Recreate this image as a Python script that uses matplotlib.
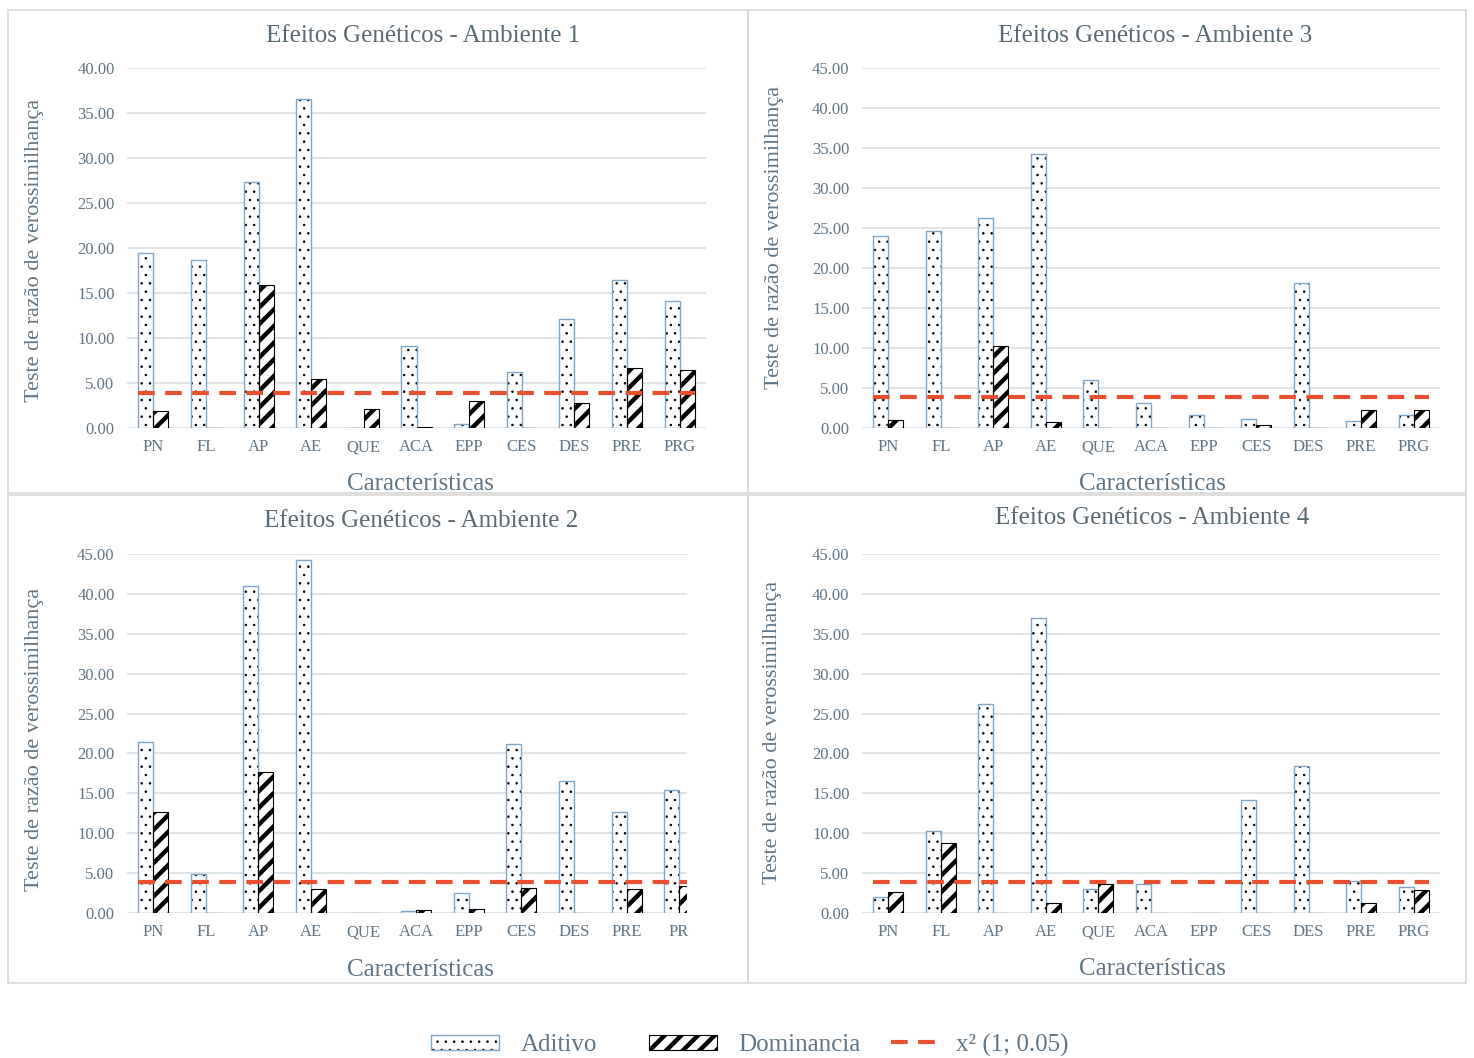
import matplotlib
matplotlib.use("Agg")
import matplotlib.pyplot as plt
import numpy as np
from matplotlib.patches import Rectangle, Patch
from matplotlib.lines import Line2D
from matplotlib.legend_handler import HandlerTuple

plt.rcParams['font.family'] = ['Liberation Serif', 'DejaVu Serif']

categories = ['PN', 'FL', 'AP', 'AE', 'QUE', 'ACA', 'EPP', 'CES', 'DES', 'PRE', 'PRG']
categories_amb2 = ['PN', 'FL', 'AP', 'AE', 'QUE', 'ACA', 'EPP', 'CES', 'DES', 'PRE', 'PR']

aditivo_1 = [19.4, 18.7, 27.3, 36.6, 0.0, 9.1, 0.4, 6.2, 12.1, 16.4, 14.1]
dominancia_1 = [1.9, 0.0, 15.9, 5.5, 2.1, 0.1, 3.0, 0.05, 2.8, 6.7, 6.4]
aditivo_2 = [21.4, 4.9, 41.0, 44.2, 0.0, 0.2, 2.5, 21.2, 16.6, 12.6, 15.4]
dominancia_2 = [12.6, 0.0, 17.7, 3.0, 0.0, 0.4, 0.45, 3.1, 0.0, 3.0, 3.4]
aditivo_3 = [24.0, 24.6, 26.2, 34.2, 6.0, 3.1, 1.6, 1.1, 18.1, 0.9, 1.6]
dominancia_3 = [0.95, 0.05, 10.3, 0.75, 0.0, 0.0, 0.0, 0.4, 0.0, 2.3, 2.2]
aditivo_4 = [2.0, 10.3, 26.2, 37.0, 3.0, 3.6, 0.05, 14.2, 18.4, 4.0, 3.2]
dominancia_4 = [2.6, 8.8, 0.05, 1.2, 3.6, 0.0, 0.0, 0.0, 0.05, 1.2, 2.9]

limiar = 3.84  # x2 (1; 0.05)

TXT = '#607585'
GRID = '#d5dde2'
RED = '#E8502F'
ADD_EDGE = '#7fa6c6'
DOT_LW = 0.6
STRIPE_LW = 3.2

W, H = 1474, 1058
fig = plt.figure(figsize=(W / 100, H / 100), dpi=100)
fig.patch.set_facecolor('white')


def fx(px):
    return px / W


def fy(py):
    return 1 - py / H


def set_hlw(artists, lw):
    for a in artists:
        if hasattr(a, 'set_hatch_linewidth'):
            a.set_hatch_linewidth(lw)


# panel borders
for (x0, y0, x1, y1) in [(8, 10, 748, 493), (748, 10, 1466, 493),
                         (8, 495, 748, 983), (748, 495, 1466, 983)]:
    fig.add_artist(Rectangle((fx(x0), fy(y1)), fx(x1) - fx(x0), fy(y0) - fy(y1),
                             transform=fig.transFigure, fill=False,
                             edgecolor='#d9d9d9', lw=1.2))

panels = [
    dict(title='Efeitos Genéticos - Ambiente 1', ad=aditivo_1, dom=dominancia_1, cats=categories,
         box=(127, 68, 706, 428), ymax=40, tpos=(423, 36), xl=(420, 484), yl=(35, 250), xright=None),
    dict(title='Efeitos Genéticos - Ambiente 3', ad=aditivo_3, dom=dominancia_3, cats=categories,
         box=(862, 68, 1440, 428), ymax=45, tpos=(1155, 36), xl=(1152, 484), yl=(775, 237), xright=None),
    dict(title='Efeitos Genéticos - Ambiente 2', ad=aditivo_2, dom=dominancia_2, cats=categories_amb2,
         box=(127, 554, 687, 913), ymax=45, tpos=(421, 521), xl=(420, 970), yl=(35, 739), xright=10.15),
    dict(title='Efeitos Genéticos - Ambiente 4', ad=aditivo_4, dom=dominancia_4, cats=categories,
         box=(862, 554, 1440, 913), ymax=45, tpos=(1152, 518), xl=(1152, 969), yl=(773, 732), xright=None),
]

bw = 0.285
for p in panels:
    x0, y0, x1, y1 = p['box']
    ax = fig.add_axes([fx(x0), fy(y1), fx(x1) - fx(x0), fy(y0) - fy(y1)])
    x = np.arange(len(p['cats']))
    # additive bars: dotted pattern + blue outline
    with plt.rc_context({'hatch.linewidth': DOT_LW}):
        b = ax.bar(x - bw / 2, p['ad'], bw, color='white', edgecolor='black', hatch='..', lw=0, zorder=3)
        set_hlw(b, DOT_LW)
    ax.bar(x - bw / 2, p['ad'], bw, fill=False, edgecolor=ADD_EDGE, lw=1.0, zorder=4)
    # dominance bars: stripes + black outline
    with plt.rc_context({'hatch.linewidth': STRIPE_LW}):
        b = ax.bar(x + bw / 2, p['dom'], bw, color='white', edgecolor='black', hatch='//', lw=0, zorder=3)
        set_hlw(b, STRIPE_LW)
    ax.bar(x + bw / 2, p['dom'], bw, fill=False, edgecolor='black', lw=0.8, zorder=4)
    ax.hlines(limiar, x[0] - bw * 1.05, x[-1] + bw * 1.05, colors=RED, lw=3,
              linestyles=(0, (4, 2.5)), zorder=5)
    ax.set_ylim(0, p['ymax'])
    ax.set_xlim(-0.5, p['xright'] if p['xright'] is not None else len(x) - 0.5)
    ticks = np.arange(0, p['ymax'] + 0.1, 5)
    ax.set_yticks(ticks)
    ax.set_yticklabels([f'{v:.2f}' for v in ticks])
    ax.set_xticks(x)
    ax.set_xticklabels(p['cats'])
    ax.tick_params(axis='both', length=0, colors=TXT, labelsize=12)
    ax.tick_params(axis='y', pad=9)
    ax.tick_params(axis='x', pad=8)
    ax.grid(axis='y', color=GRID, lw=1.1, zorder=0)
    ax.set_axisbelow(True)
    for s in ax.spines.values():
        s.set_visible(False)
    ax.patch.set_alpha(0)
    fig.text(fx(p['tpos'][0]), fy(p['tpos'][1]), p['title'], ha='center', va='center',
             fontsize=18, color='#5a6a75')
    fig.text(fx(p['xl'][0]), fy(p['xl'][1]), 'Características', ha='center', va='center',
             fontsize=18, color=TXT)
    fig.text(fx(p['yl'][0]), fy(p['yl'][1]), 'Teste de razão de verossimilhança', ha='center',
             va='center', rotation=90, fontsize=16, color=TXT)

h1a = Patch(facecolor='white', edgecolor='black', hatch='..', lw=0)
h1b = Patch(fill=False, edgecolor=ADD_EDGE, lw=1.0)
h2 = Patch(facecolor='white', edgecolor='black', hatch='//', lw=0.8)
h3 = Line2D([0], [0], color=RED, lw=3, linestyle=(0, (4, 2.5)))
leg1 = fig.legend([(h1a, h1b), h2], ['Aditivo', 'Dominancia'], loc='center',
                  bbox_to_anchor=(fx(646), fy(1045)), ncol=2, frameon=False, fontsize=18,
                  handlelength=2.72, handleheight=0.55, handletextpad=0.84, columnspacing=2.1,
                  handler_map={tuple: HandlerTuple(ndivide=1, pad=0)})
leg2 = fig.legend([h3], ['x² (1; 0.05)'], loc='center',
                  bbox_to_anchor=(fx(980), fy(1045)), frameon=False, fontsize=18,
                  handlelength=1.8, handletextpad=0.8)
for leg in (leg1, leg2):
    for t in leg.get_texts():
        t.set_color(TXT)
lh = leg1.legend_handles
set_hlw([lh[0]], DOT_LW)
set_hlw([lh[1]], STRIPE_LW)

fig.savefig('out.png', dpi=100, facecolor='white')
